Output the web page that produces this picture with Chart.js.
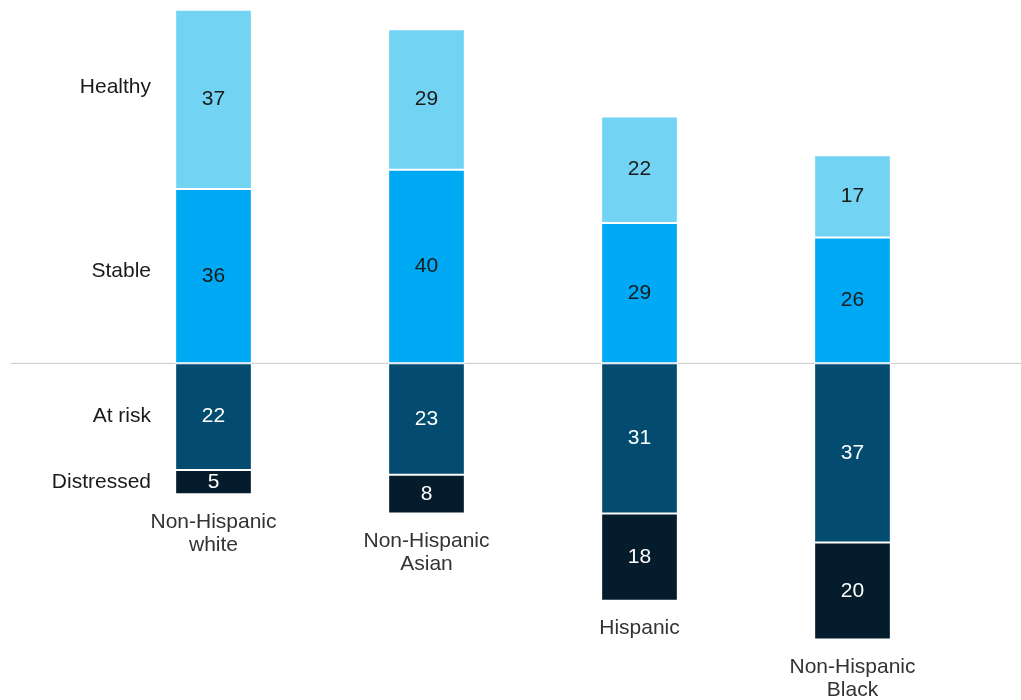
<!DOCTYPE html>
<html>
<head>
<meta charset="utf-8">
<script src="https://cdn.jsdelivr.net/npm/chart.js@4.4.1/dist/chart.umd.min.js"></script>
<style>
  body { margin: 0; background: #fff; }
  #wrap { width: 1021px; height: 700px; position: relative; }
</style>
</head>
<body>
<div id="wrap"><canvas id="myChart"></canvas></div>
<script>
var groups = [["Non-Hispanic", "white"], ["Non-Hispanic", "Asian"], ["Hispanic"], ["Non-Hispanic", "Black"]]
var stable = [36, 40, 29, 26]
var healthy = [37, 29, 22, 17]
var atRisk = [22, 23, 31, 37]
var distressed = [5, 8, 18, 20]
var seriesNames = ["Stable", "Healthy", "At risk", "Distressed"]

var font = "'Liberation Sans', Arial, sans-serif"

// baseline drawn behind bars, labels drawn on top
var labelsPlugin = {
  id: 'labels',
  beforeDatasetsDraw: function (chart) {
    var ctx = chart.ctx
    var y0 = chart.scales.y.getPixelForValue(0)
    ctx.save()
    ctx.strokeStyle = '#c8c8c8'
    ctx.lineWidth = 1
    ctx.beginPath()
    ctx.moveTo(11, y0)
    ctx.lineTo(chart.width, y0)
    ctx.stroke()
    ctx.restore()
  },
  afterDatasetsDraw: function (chart) {
    var ctx = chart.ctx
    ctx.save()
    ctx.textAlign = 'center'
    ctx.textBaseline = 'middle'
    ctx.font = '21px ' + font
    chart.data.datasets.forEach(function (ds, di) {
      var meta = chart.getDatasetMeta(di)
      meta.data.forEach(function (bar, i) {
        ctx.fillStyle = di < 2 ? '#1a1a1a' : '#ffffff'
        var v = Math.abs(ds.data[i])
        ctx.fillText(v, bar.x, (bar.y + bar.base) / 2)
      })
      // series names at left, level with the first bar
      var first = meta.data[0]
      ctx.fillStyle = '#1a1a1a'
      ctx.textAlign = 'right'
      ctx.fillText(seriesNames[di], 151, (first.y + first.base) / 2 - (di == 1 ? 12 : di == 0 ? 5 : 0))
      ctx.textAlign = 'center'
    })
    // category names under each bar
    var bottomMeta = chart.getDatasetMeta(3)
    ctx.fillStyle = '#333333'
    bottomMeta.data.forEach(function (bar, i) {
      groups[i].forEach(function (line, k) {
        ctx.fillText(line, bar.x, bar.y + 28 + k * 23)
      })
    })
    ctx.restore()
  }
}

var myChart = document.getElementById('myChart').getContext('2d')

var chart = new Chart(myChart, {
  type: 'bar',
  data: {
    labels: groups.map(function (g) { return g.join(' ') }),
    datasets: [
      { label: "Stable", data: stable, backgroundColor: "#00a9f4" },
      { label: "Healthy", data: healthy, backgroundColor: "#72d3f2" },
      { label: "At risk", data: atRisk.map(function (v) { return -v }), backgroundColor: "#034b6f" },
      { label: "Distressed", data: distressed.map(function (v) { return -v }), backgroundColor: "#051c2c" }
    ].map(function (d) {
      d.borderColor = '#ffffff'
      d.borderWidth = 1
      d.borderSkipped = false
      d.barPercentage = 0.36
      d.categoryPercentage = 1
      return d
    })
  },
  options: {
    responsive: true,
    maintainAspectRatio: false,
    animation: false,
    layout: { padding: { left: 107, right: 62, top: 5, bottom: 17 } },
    plugins: { legend: { display: false }, tooltip: { enabled: false } },
    scales: {
      x: { stacked: true, display: false },
      y: { stacked: true, display: false, min: -66, max: 74 }
    }
  },
  plugins: [labelsPlugin]
})
</script>
</body>
</html>
